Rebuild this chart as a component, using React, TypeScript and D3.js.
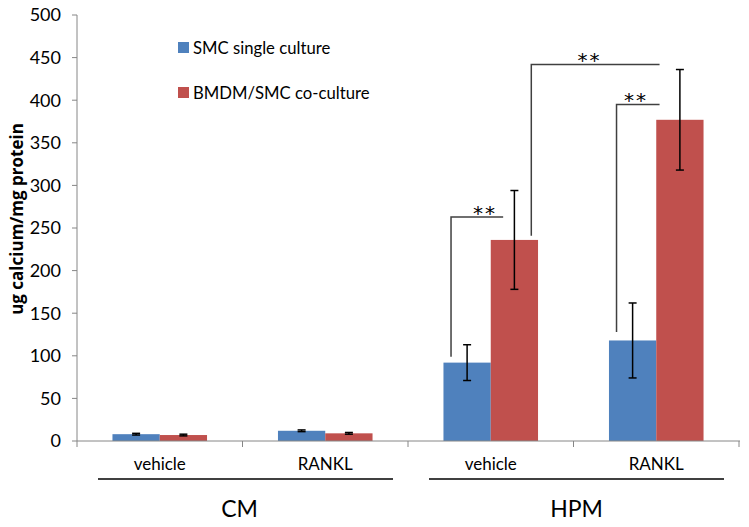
import React from "react";
import * as d3 from "d3";

const categories = ["vehicle", "RANKL", "vehicle", "RANKL"];
const groups = ["CM", "HPM"];
const seriesNames = ["SMC single culture", "BMDM/SMC co-culture"];
const smcValues = [8, 12, 92, 118];
const smcErrors = [1, 1, 21, 44];
const coValues = [7, 9, 236, 377];
const coErrors = [1, 1, 58, 59];
const yTicks = [0, 50, 100, 150, 200, 250, 300, 350, 400, 450, 500];
// significance brackets: category index, x fractions within band, top & bottom values
const brackets = [
  { cat: 2, f1: 0.26, top: 263, bottom: 99, endCat: 2, endF: 0.575, label: "**" },
  { cat: 2, f1: 0.745, top: 442, bottom: 241, endCat: 3, endF: 0.52, label: "**" },
  { cat: 3, f1: 0.26, top: 395, bottom: 128, endCat: 3, endF: 0.52, label: "**" },
];

const W = 749;
const H = 527;
const colors = ["#4F81BD", "#C0504D"];
const FONT = "Lato, 'Open Sans', sans-serif";

export default function App() {
  const x = d3.scaleBand<number>().domain(d3.range(categories.length)).range([77, 739]).padding(0);
  const y = d3.scaleLinear().domain([0, 500]).range([441, 15]);
  const bw = x.bandwidth();
  const barW = bw / 3.5;
  const series = [
    { vals: smcValues, errs: smcErrors },
    { vals: coValues, errs: coErrors },
  ];
  const boundaries = d3.range(categories.length + 1).map((i) => 77 + i * bw);

  return (
    <svg width={W} height={H} style={{ position: "absolute", left: 0, top: 0, background: "#fff" }}>
      {/* bars */}
      {series.map((s, si) =>
        s.vals.map((v, i) => {
          const cx = (x(i) as number) + bw / 2;
          const bx = cx - barW + si * barW;
          return (
            <rect key={`b${si}-${i}`} x={bx} y={y(v)} width={barW} height={y(0) - y(v)} fill={colors[si]} />
          );
        })
      )}
      {/* error bars */}
      {series.map((s, si) =>
        s.vals.map((v, i) => {
          const cx = (x(i) as number) + bw / 2;
          const ex = cx - barW / 2 + si * barW;
          const e = s.errs[i];
          return (
            <g key={`e${si}-${i}`} stroke="#000" strokeWidth={1.5}>
              <line x1={ex} x2={ex} y1={y(v + e)} y2={y(v - e)} />
              <line x1={ex - 4} x2={ex + 4} y1={y(v + e)} y2={y(v + e)} />
              <line x1={ex - 4} x2={ex + 4} y1={y(v - e)} y2={y(v - e)} />
            </g>
          );
        })
      )}
      {/* y axis */}
      <line x1={77} x2={77} y1={y(500)} y2={y(0)} stroke="#868686" strokeWidth={1} />
      {yTicks.map((t) => (
        <g key={`yt${t}`}>
          <line x1={72} x2={77} y1={y(t)} y2={y(t)} stroke="#868686" />
          <text x={61} y={y(t)} dy="0.35em" textAnchor="end" fontFamily={FONT} fontSize={18} fill="#000">
            {t}
          </text>
        </g>
      ))}
      {/* x axis */}
      <line x1={77} x2={740} y1={y(0)} y2={y(0)} stroke="#868686" strokeWidth={1} />
      {boundaries.map((b, i) => (
        <line key={`xt${i}`} x1={b} x2={b} y1={y(0)} y2={y(0) + 6} stroke="#868686" />
      ))}
      {categories.map((c, i) => (
        <text key={`c${i}`} x={(x(i) as number) + bw / 2} y={470} textAnchor="middle" fontFamily={FONT} fontSize={17} fill="#000">
          {c}
        </text>
      ))}
      {groups.map((g, gi) => {
        const x1 = (x(gi * 2) as number) + 21;
        const x2 = (x(gi * 2 + 1) as number) + bw - 15;
        return (
          <g key={`g${gi}`}>
            <line x1={x1} x2={x2} y1={479} y2={479} stroke="#000" strokeWidth={1.5} />
            <text x={(x1 + x2) / 2 - (gi === 0 ? 6 : 0)} y={517} textAnchor="middle" fontFamily={FONT} fontSize={23} fill="#000">
              {g}
            </text>
          </g>
        );
      })}
      {/* y title */}
      <text
        transform={`translate(23,219) rotate(-90)`}
        textAnchor="middle"
        fontFamily="'Open Sans', sans-serif"
        fontWeight="bold"
        fontSize={17}
        fill="#000"
      >
        ug calcium/mg protein
      </text>
      {/* legend */}
      {seriesNames.map((n, i) => (
        <g key={`l${i}`}>
          <rect x={178} y={42 + i * 45} width={11} height={11} fill={colors[i]} />
          <text x={193} y={48 + i * 45} dy="0.35em" fontFamily={FONT} fontSize={16.7} fill="#000">
            {n}
          </text>
        </g>
      ))}
      {/* significance brackets */}
      {brackets.map((b, i) => {
        const bx1 = (x(b.cat) as number) + b.f1 * bw;
        const right = (x(b.endCat) as number) + b.endF * bw;
        return (
          <g key={`br${i}`}>
            <path
              d={`M${bx1},${y(b.bottom)} V${y(b.top)} H${right}`}
              fill="none"
              stroke="#404040"
              strokeWidth={1.5}
            />
            <text
              x={(bx1 + right) / 2 + (i === 1 ? -6 : 0) + (i === 2 ? -2 : 0) + (i === 0 ? 8 : 0)}
              y={y(b.top) + 3}
              textAnchor="middle"
              fontFamily="'DejaVu Sans', sans-serif"
              fontSize={20}
              letterSpacing={2}
              fill="#000"
            >
              {b.label}
            </text>
          </g>
        );
      })}
    </svg>
  );
}
